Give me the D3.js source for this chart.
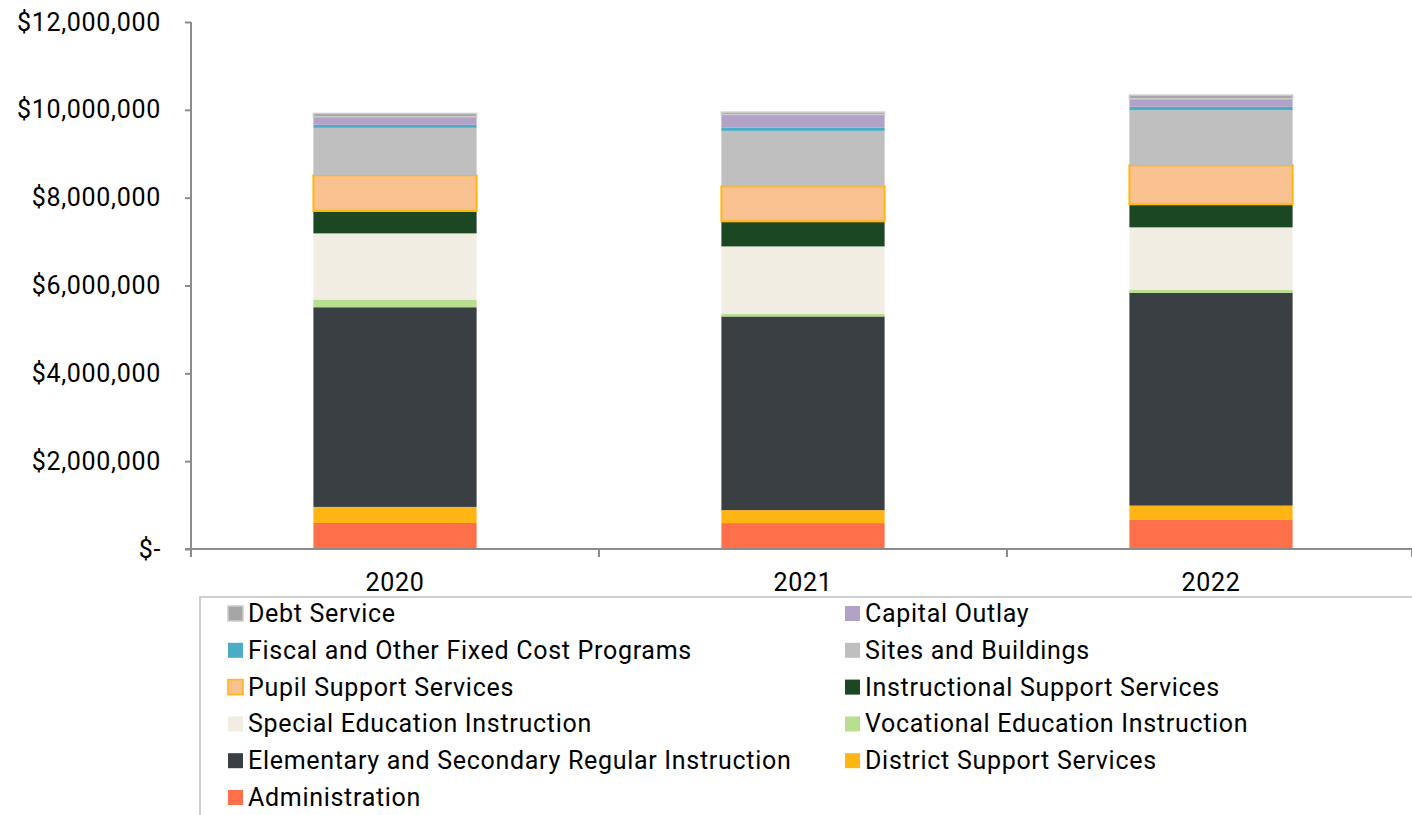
<!DOCTYPE html>
<html>
<head>
<meta charset="utf-8">
<script src="https://cdn.jsdelivr.net/npm/d3@7"></script>
<style>
  body { margin: 0; background: #fff; }
  svg { font-family: Roboto, "Liberation Sans", sans-serif; }
  svg text { letter-spacing: 0.7px; }
</style>
</head>
<body>
<div id="chart"></div>
<script>
// years on the x axis
var years = ["2020", "2021", "2022"];

// categories, bottom of the stack first
var categories = [
  "Administration",
  "District Support Services",
  "Elementary and Secondary Regular Instruction",
  "Vocational Education Instruction",
  "Special Education Instruction",
  "Instructional Support Services",
  "Pupil Support Services",
  "Sites and Buildings",
  "Fiscal and Other Fixed Cost Programs",
  "Capital Outlay",
  "Debt Service"
];

// values per category, one per year
var administration   = [593000, 590000, 662000];
var districtSupport  = [365000, 295000, 326000];
var elemSecondary    = [4547000, 4410000, 4846000];
var vocational       = [176000, 60000, 68000];
var specialEd        = [1506000, 1535000, 1422000];
var instrSupport     = [509000, 571000, 525000];
var pupilSupport     = [814000, 798000, 889000];
var sitesBuildings   = [1080000, 1262000, 1255000];
var fiscalFixed      = [68000, 69000, 76000];
var capitalOutlay    = [183000, 305000, 182000];
var debtService      = [77000, 52000, 84000];

var yTicks = [0, 2000000, 4000000, 6000000, 8000000, 10000000, 12000000];

// legend order (two columns, row by row)
var legendOrder = [
  "Debt Service", "Capital Outlay",
  "Fiscal and Other Fixed Cost Programs", "Sites and Buildings",
  "Pupil Support Services", "Instructional Support Services",
  "Special Education Instruction", "Vocational Education Instruction",
  "Elementary and Secondary Regular Instruction", "District Support Services",
  "Administration"
];

var series = [administration, districtSupport, elemSecondary, vocational, specialEd,
  instrSupport, pupilSupport, sitesBuildings, fiscalFixed, capitalOutlay, debtService];

var fills = {
  "Administration": "#ff6f49",
  "District Support Services": "#ffb514",
  "Elementary and Secondary Regular Instruction": "#3a3f44",
  "Vocational Education Instruction": "#b7df8f",
  "Special Education Instruction": "#f1ede2",
  "Instructional Support Services": "#1b4723",
  "Pupil Support Services": "#f9c090",
  "Sites and Buildings": "#bfbfbf",
  "Fiscal and Other Fixed Cost Programs": "#4bacc6",
  "Capital Outlay": "#b3a2c7",
  "Debt Service": "#a6a6a6"
};
var strokes = {
  "Pupil Support Services": "#ffb60f",
  "Debt Service": "#cccccc"
};

var width = 1412, height = 815;
var margin = { left: 191, top: 22, bottom: 267 };
var fontSize = "25px";

var table = years.map(function (y, i) {
  var row = { year: y };
  categories.forEach(function (c, j) { row[c] = series[j][i]; });
  return row;
});

var stack = d3.stack().keys(categories)(table);

var x = d3.scaleBand()
  .domain(years)
  .range([margin.left, 1415])
  .paddingInner(0.6)
  .paddingOuter(0.3);

var y = d3.scaleLinear()
  .domain([0, 12000000])
  .range([height - margin.bottom + 1, margin.top]);

var svg = d3.select("#chart").append("svg")
  .attr("width", width)
  .attr("height", height);

// bars
svg.selectAll("g.layer")
  .data(stack)
  .enter().append("g")
  .attr("class", "layer")
  .attr("fill", function (d) { return fills[d.key]; })
  .attr("stroke", function (d) { return strokes[d.key] || "none"; })
  .attr("stroke-width", function (d) { return d.key == "Pupil Support Services" ? 2 : 1.5; })
  .selectAll("rect")
  .data(function (d) { return d; })
  .enter().append("rect")
  .attr("x", function (d) { return x(d.data.year); })
  .attr("width", x.bandwidth())
  .attr("y", function (d) { return y(d[1]); })
  .attr("height", function (d) { return y(d[0]) - y(d[1]); });

// y axis
var fmt = d3.format(",");
var yAxis = svg.append("g")
  .attr("transform", "translate(" + margin.left + ",0)")
  .call(d3.axisLeft(y).tickValues(yTicks).tickSize(6).tickPadding(24)
    .tickFormat(function (d) { return d === 0 ? "$-" : "$" + fmt(d); }));
yAxis.selectAll("text").attr("font-size", fontSize).attr("fill", "#000")
  .attr("font-family", "Roboto");
yAxis.selectAll("line").attr("stroke", "#8c8c8c").attr("stroke-width", 2);
yAxis.select(".domain").attr("stroke", "#8c8c8c").attr("stroke-width", 2)
  .attr("d", "M0," + y(12000000) + "V" + y(0));

// x axis
var xAxisY = y(0);
var xg = svg.append("g");
xg.append("line")
  .attr("x1", margin.left - 6).attr("x2", width)
  .attr("y1", xAxisY).attr("y2", xAxisY)
  .attr("stroke", "#8c8c8c").attr("stroke-width", 2);
var edges = [margin.left, margin.left + 408, margin.left + 816, margin.left + 1221];
xg.selectAll("line.tk")
  .data(edges)
  .enter().append("line")
  .attr("class", "tk")
  .attr("x1", function (d) { return d; }).attr("x2", function (d) { return d; })
  .attr("y1", xAxisY).attr("y2", xAxisY + 8)
  .attr("stroke", "#8c8c8c").attr("stroke-width", 2);
xg.selectAll("text")
  .data(years)
  .enter().append("text")
  .attr("x", function (d) { return x(d) + x.bandwidth() / 2; })
  .attr("y", 591)
  .attr("text-anchor", "middle")
  .attr("font-size", fontSize)
  .text(function (d) { return d; });

// legend
var legend = svg.append("g");
legend.append("rect")
  .attr("x", 200).attr("y", 597)
  .attr("width", 1230).attr("height", 240)
  .attr("fill", "none").attr("stroke", "#c0c0c0").attr("stroke-width", 1.5);

var item = legend.selectAll("g.item")
  .data(legendOrder)
  .enter().append("g")
  .attr("class", "item")
  .attr("transform", function (d, i) {
    var col = i % 2, row = Math.floor(i / 2);
    return "translate(" + (col ? 845 : 228) + "," + (613 + row * 36.8) + ")";
  });
item.append("rect")
  .attr("x", 0).attr("y", -7)
  .attr("width", 15).attr("height", 15)
  .attr("fill", function (d) { return fills[d]; })
  .attr("stroke", function (d) { return strokes[d] || "none"; })
  .attr("stroke-width", 1.5);
item.append("text")
  .attr("x", 20).attr("y", 0)
  .attr("dy", "0.36em")
  .attr("font-size", fontSize)
  .text(function (d) { return d; });
</script>
</body>
</html>
